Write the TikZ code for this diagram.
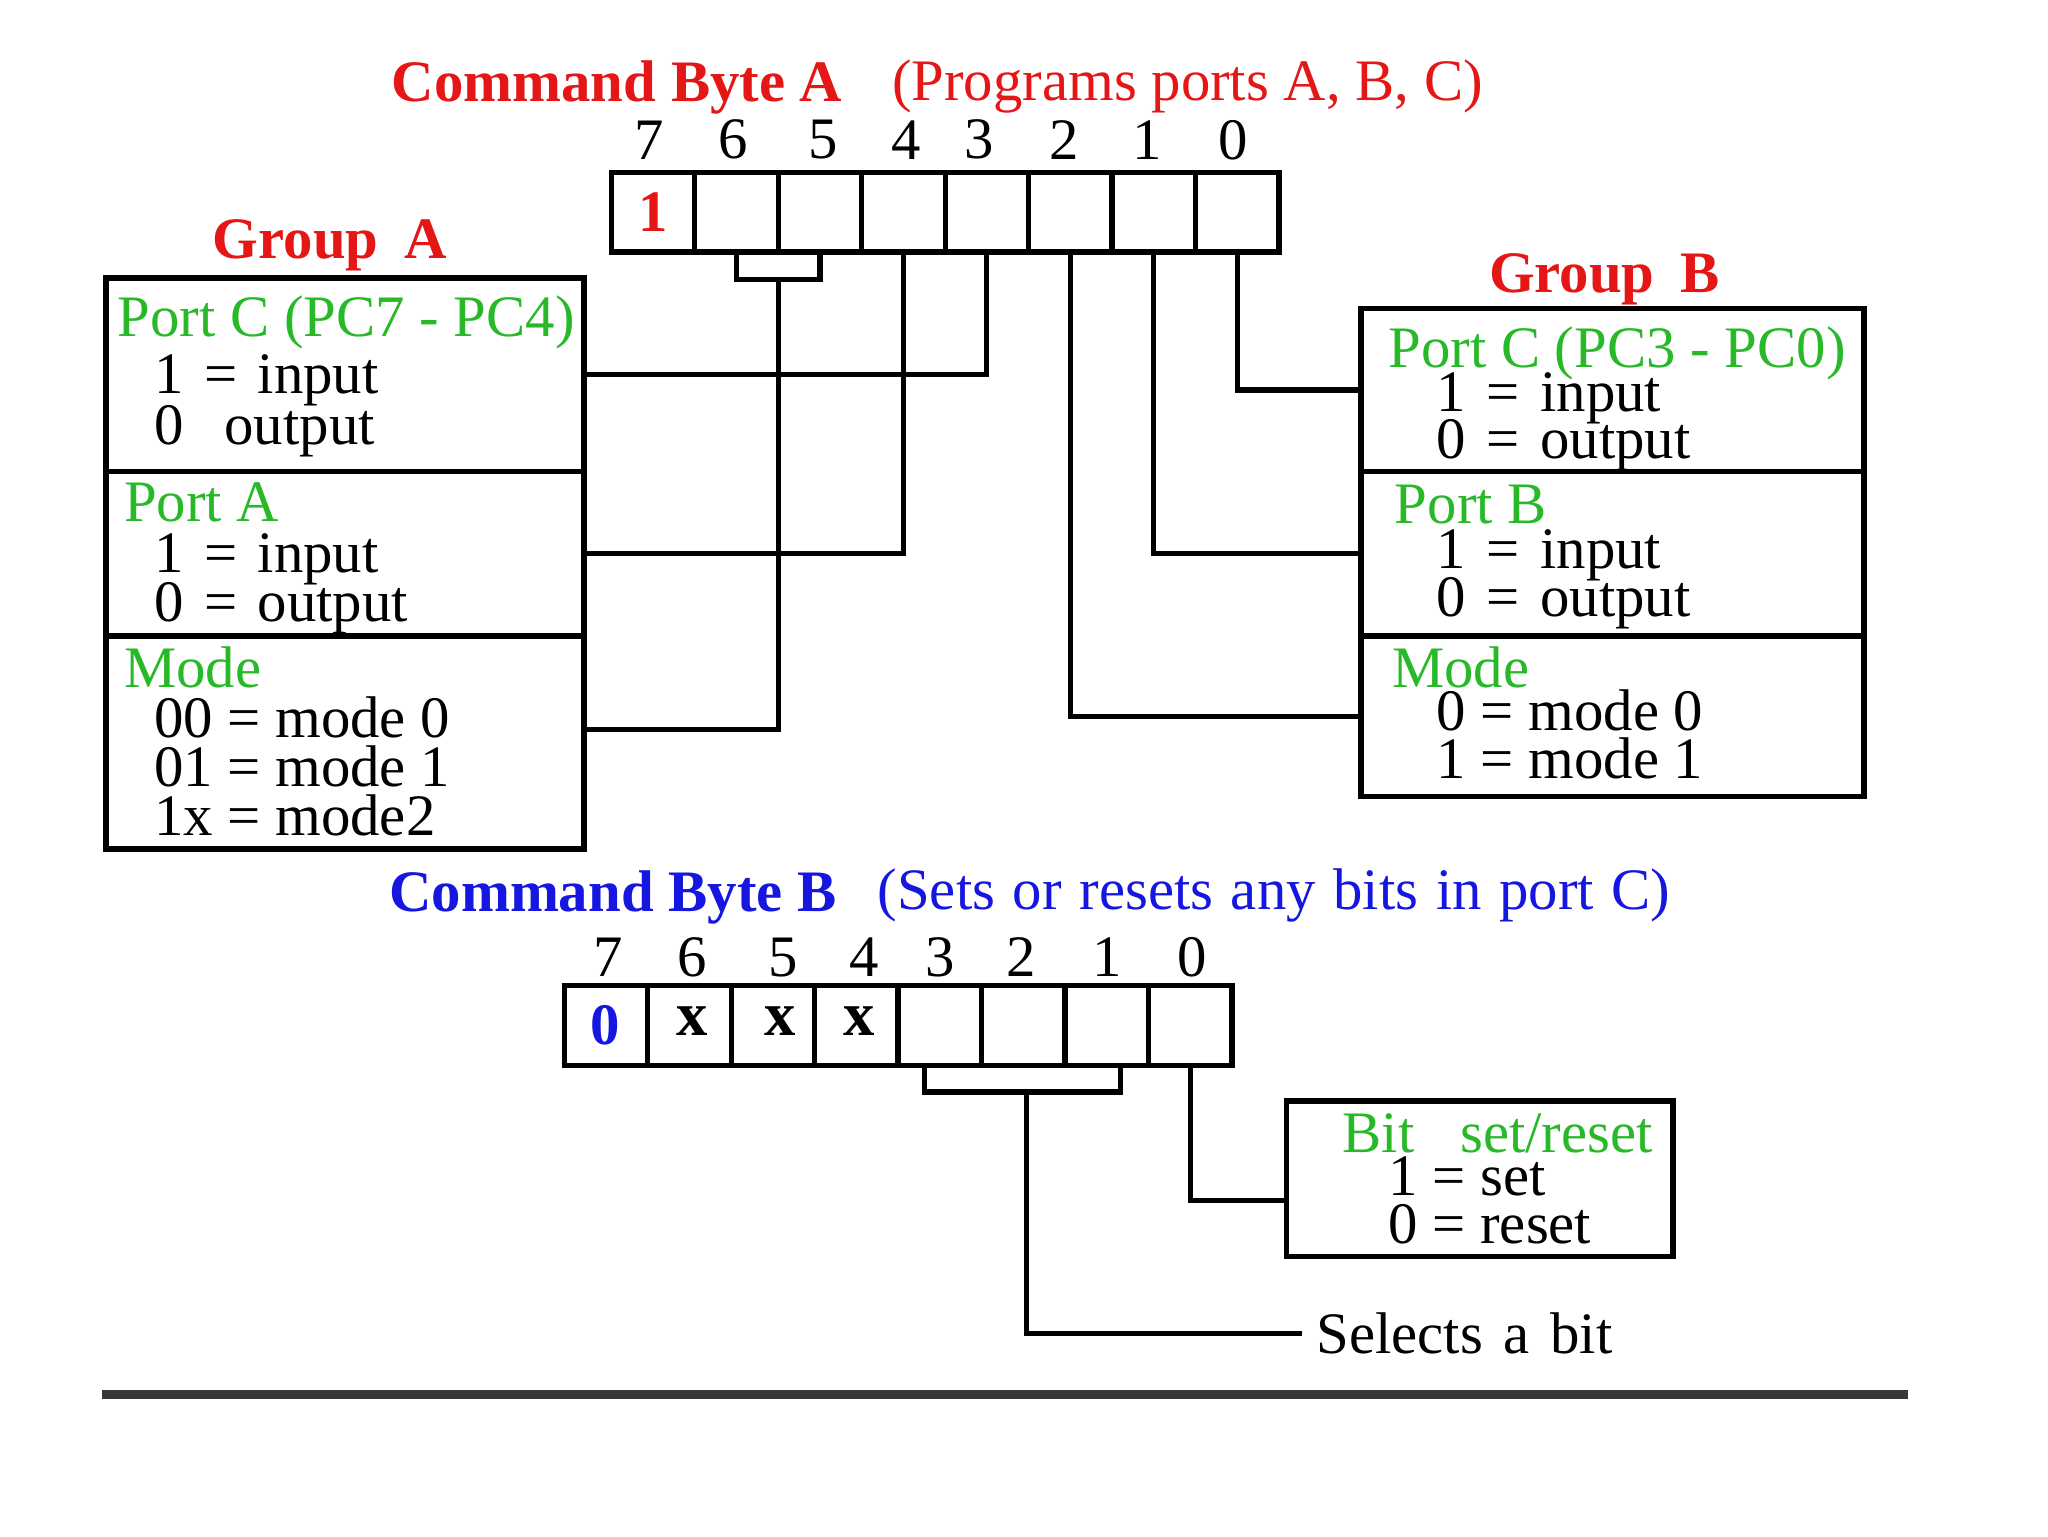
\documentclass[tikz,border=0pt]{standalone}
\usepackage{fontspec}
\setmainfont{Liberation Serif}
\usetikzlibrary{calc}
\definecolor{cred}{RGB}{228,22,22}
\definecolor{cgreen}{RGB}{40,185,40}
\definecolor{cblue}{RGB}{22,22,225}
\definecolor{cbar}{RGB}{55,55,60}
\begin{document}
\begin{tikzpicture}[x=1pt,y=-1pt,
  every node/.style={font=\fontsize{45}{54}\selectfont, inner sep=0pt, outer sep=0pt},
  txt/.style={anchor=base west},
  bfr/.style={txt,font=\fontsize{45}{54}\selectfont\bfseries,text=cred},
  bfb/.style={txt,font=\fontsize{45}{54}\selectfont\bfseries,text=cblue},
  hd/.style={txt,text=cgreen},
  bitnum/.style={anchor=center},
  cell/.style={draw,line width=4pt,minimum width=63.9pt,minimum height=61pt,font=\fontsize{45}{54}\selectfont\bfseries},
  grp/.style={draw,line width=4.2pt,anchor=north west},
  wire/.style={line width=4pt},
  ]
\useasboundingbox (0,0) rectangle (1568,1176);
\fill[white] (0,0) rectangle (1568,1176);

% ---------- Command byte A ----------
\node[bfr] (tA) at (300,78) {Command Byte A};
\node[txt,text=cred] (tA2) at (683,77) {(Programs ports A, B, C)};
\foreach \n/\x in {7/497,6/561,5/630,4/694,3/750,2/815,1/878,0/944}
  \node[bitnum] (na\n) at (\x,107) {\n};
\foreach \i in {0,...,7}{
  \pgfmathtruncatemacro{\b}{7-\i}
  \node[cell] (a\b) at ({468+63.9*(\i+0.5)},162.5) {};
}
\node[text=cred,font=\fontsize{45}{54}\selectfont\bfseries] (one) at (a7.center) {1};

% ---------- Group A ----------
\node[bfr] (gA) at (163,198) {Group\hspace{0.45em}A};
\node[grp,minimum width=366pt,minimum height=148pt] (lpc) at (81,213) {};
\node[grp,minimum width=366pt,minimum height=126pt] (lpa) at (81,361) {};
\node[grp,minimum width=366pt,minimum height=163pt] (lmode) at (81,487) {};

\node[hd] (l1) at (90,258) {Port C (PC7 - PC4)};
\node[txt] (l2) at (118,301) {1\hspace{0.35em}=\hspace{0.35em}input};
\node[txt] (l3) at (118,340) {0\hspace{0.7em}output};
\node[hd] (l4) at (95,399) {Port A};
\node[txt] (l5) at (118,438) {1\hspace{0.35em}=\hspace{0.35em}input};
\node[txt] (l6) at (118,476) {0\hspace{0.35em}=\hspace{0.35em}output};
\node[hd] (l7) at (95,526) {Mode};
\node[txt] (l8) at (118,565) {00 = mode 0};
\node[txt] (l9) at (118,602) {01 = mode 1};
\node[txt] (l10) at (118,640) {1x = mode2};

% ---------- Group B ----------
\node[bfr] (gB) at (1140,224) {Group\hspace{0.45em}B};
\node[grp,minimum width=385pt,minimum height=125pt] (rpc) at (1042,236) {};
\node[grp,minimum width=385pt,minimum height=126pt] (rpb) at (1042,361) {};
\node[grp,minimum width=385pt,minimum height=123pt] (rmode) at (1042,487) {};

\node[hd] (r1) at (1063,281) {Port C (PC3 - PC0)};
\node[txt] (r2) at (1100,315) {1\hspace{0.35em}=\hspace{0.35em}input};
\node[txt] (r3) at (1100,351) {0\hspace{0.35em}=\hspace{0.35em}output};
\node[hd] (r4) at (1068,401) {Port B};
\node[txt] (r5) at (1100,435) {1\hspace{0.35em}=\hspace{0.35em}input};
\node[txt] (r6) at (1100,472) {0\hspace{0.35em}=\hspace{0.35em}output};
\node[hd] (r7) at (1066,526) {Mode};
\node[txt] (r8) at (1100,559) {0 = mode 0};
\node[txt] (r9) at (1100,596) {1 = mode 1};

% ---------- connectors byte A ----------
\coordinate (brA1) at ($(a6.south)+(0,21)$);
\draw[wire] (a6.south) -- (brA1) -| (a5.south);
\coordinate (brA) at (596,214);
\draw[wire] (brA) |- ([yshift=10pt]lmode.east);
\draw[wire] (a4.south) |- (lpa.east);
\draw[wire] (a3.south) |- (lpc.east);
\draw[wire] (a2.south) |- (rmode.west);
\draw[wire] (a1.south) |- (rpb.west);
\draw[wire] (a0.south) |- (rpc.west);

% ---------- Command byte B ----------
\node[bfb] (tB) at (298,698) {Command Byte B};
\node[txt,text=cblue] (tB2) at (672,696) {(Sets\hspace{0.3em}or\hspace{0.3em}resets\hspace{0.3em}any\hspace{0.3em}bits\hspace{0.3em}in\hspace{0.3em}port\hspace{0.3em}C)};
\foreach \n/\x in {7/466,6/530,5/600,4/662,3/720,2/782,1/848,0/913}
  \node[bitnum] (nb\n) at (\x,733) {\n};
\foreach \i in {0,...,7}{
  \pgfmathtruncatemacro{\b}{7-\i}
  \node[cell] (b\b) at ({432+63.9*(\i+0.5)},785) {};
}
\node[text=cblue,font=\fontsize{45}{54}\selectfont\bfseries] (zero) at (463,785) {0};
\node[font=\fontsize{48}{54}\selectfont\bfseries] (x6) at (530,782) {x};
\node[font=\fontsize{48}{54}\selectfont\bfseries] (x5) at (597,782) {x};
\node[font=\fontsize{48}{54}\selectfont\bfseries] (x4) at (658,782) {x};

% bit set/reset box
\node[grp,minimum width=296pt,minimum height=119pt] (bsr) at (985,843) {};
\node[hd] (s1) at (1028,882) {Bit};
\node[hd] (s2) at (1118,882) {set/reset};
\node[txt] (s3) at (1063,915) {1 = set};
\node[txt] (s4) at (1063,952) {0 = reset};

\node[anchor=west] (sel) at (1008,1021) {Selects\hspace{0.35em}a\hspace{0.35em}bit};

% connectors byte B
\coordinate (brB1) at (708,816);
\coordinate (brB2) at (858,816);
\draw[wire] (brB1) -- ++(0,20) -| (brB2);
\coordinate (brB) at (786,836);
\draw[wire] (brB) |- ([xshift=-11pt]sel.west);
\draw[wire] (b0.south) |- ([yshift=-16.5pt]bsr.west);

% bottom bar
\coordinate (barL) at (78,1067.5);
\coordinate (barR) at (1461,1067.5);
\draw[line width=7pt,cbar] (barL) -- (barR);
\end{tikzpicture}
\end{document}
